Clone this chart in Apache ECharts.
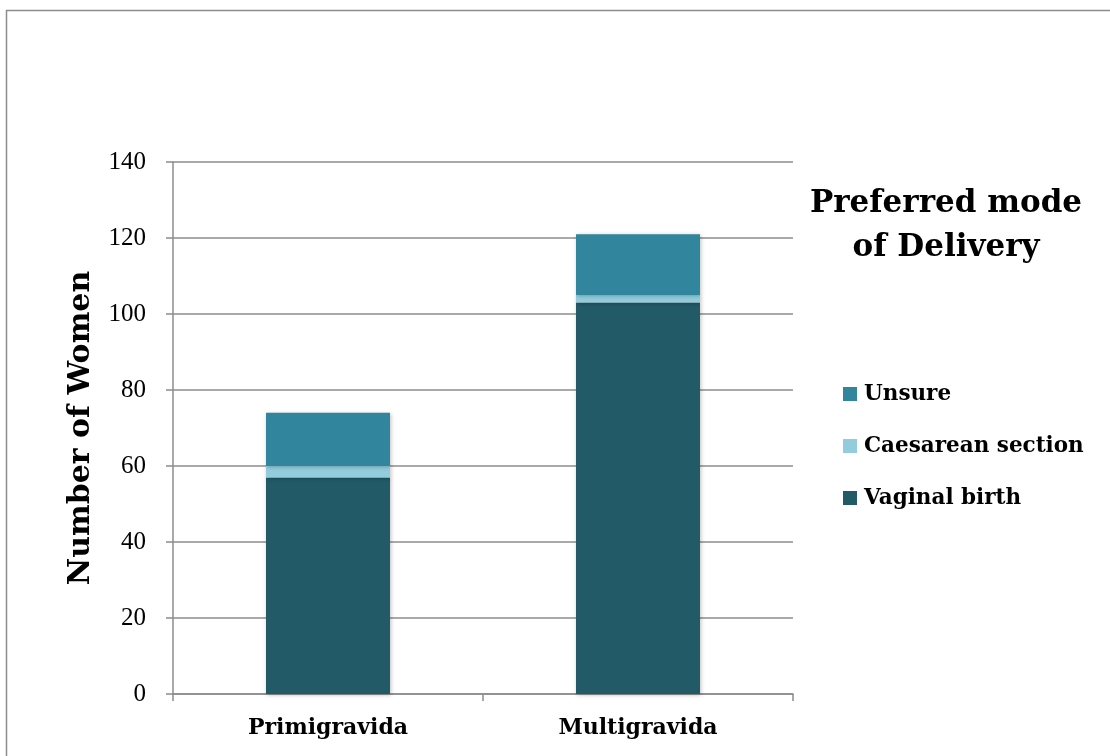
<!DOCTYPE html>
<html>
<head>
<meta charset="utf-8">
<script src="https://cdn.jsdelivr.net/npm/echarts@6/dist/echarts.min.js"></script>
<style>
    html, body { margin: 0; padding: 0; background: #fff; }
    #chart { width: 1110px; height: 756px; }
</style>
</head>
<body>
<div id="chart"></div>
<script>
    // 数据
    var categories = ['Primigravida', 'Multigravida'];
    var vaginal = [57, 103];
    var caesarean = [3, 2];
    var unsure = [14, 16];
    var yTicks = [0, 20, 40, 60, 80, 100, 120, 140];

    var serif = '"DejaVu Serif", "Liberation Serif", serif';
    var tickFont = '"Liberation Serif", serif';

    function barSeries(name, data, color) {
        return {
            name: name,
            type: 'bar',
            stack: 'total',
            barWidth: '40%',
            data: data,
            itemStyle: {
                color: color,
                shadowColor: 'rgba(0,0,0,0.25)',
                shadowBlur: 4,
                shadowOffsetX: 1,
                shadowOffsetY: 1
            }
        };
    }

    var myChart = echarts.init(document.getElementById('chart'));
    myChart.setOption({
        animation: false,
        backgroundColor: '#fff',
        grid: { left: 173, right: 317, top: 162, bottom: 62 },
        legend: {
            orient: 'vertical',
            left: 838,
            top: 376,
            itemWidth: 14,
            itemHeight: 14,
            itemGap: 26,
            icon: 'rect',
            data: ['Unsure', 'Caesarean section', 'Vaginal birth'],
            textStyle: { fontFamily: serif, fontWeight: 'bold', fontSize: 21.5, color: '#000', lineHeight: 26, padding: [0, 0, 0, 2] }
        },
        graphic: [
            {
                type: 'rect',
                shape: { x: 6.5, y: 10.5, width: 1110, height: 760 },
                style: { fill: 'none', stroke: '#8c8c8c', lineWidth: 1.5 },
                silent: true
            },
            {
                type: 'text',
                x: 946,
                y: 182,
                style: {
                    text: 'Preferred mode\nof Delivery',
                    font: 'bold 31px ' + serif,
                    lineHeight: 44,
                    textAlign: 'center',
                    fill: '#000'
                }
            }
        ],
        xAxis: {
            type: 'category',
            data: categories,
            axisLine: { lineStyle: { color: '#8c8c8c', width: 1.5 } },
            axisTick: { show: true, length: 7, lineStyle: { color: '#8c8c8c', width: 1.5 } },
            axisLabel: { fontFamily: serif, fontWeight: 'bold', fontSize: 22, color: '#000', margin: 23 }
        },
        yAxis: {
            type: 'value',
            min: yTicks[0],
            max: yTicks[yTicks.length - 1],
            interval: 20,
            name: 'Number of Women',
            nameLocation: 'middle',
            nameGap: 77,
            nameTextStyle: { fontFamily: serif, fontWeight: 'bold', fontSize: 30, color: '#000' },
            axisLine: { show: true, lineStyle: { color: '#8c8c8c', width: 1.5 } },
            axisTick: { show: true, length: 7, lineStyle: { color: '#8c8c8c', width: 1.5 } },
            axisLabel: { fontFamily: tickFont, fontSize: 25, color: '#000', margin: 27 },
            splitLine: { lineStyle: { color: '#8c8c8c', width: 1.5 } }
        },
        series: [
            barSeries('Vaginal birth', vaginal, '#225a68'),
            barSeries('Caesarean section', caesarean, '#93cddd'),
            barSeries('Unsure', unsure, '#31859c')
        ]
    });
</script>
</body>
</html>
